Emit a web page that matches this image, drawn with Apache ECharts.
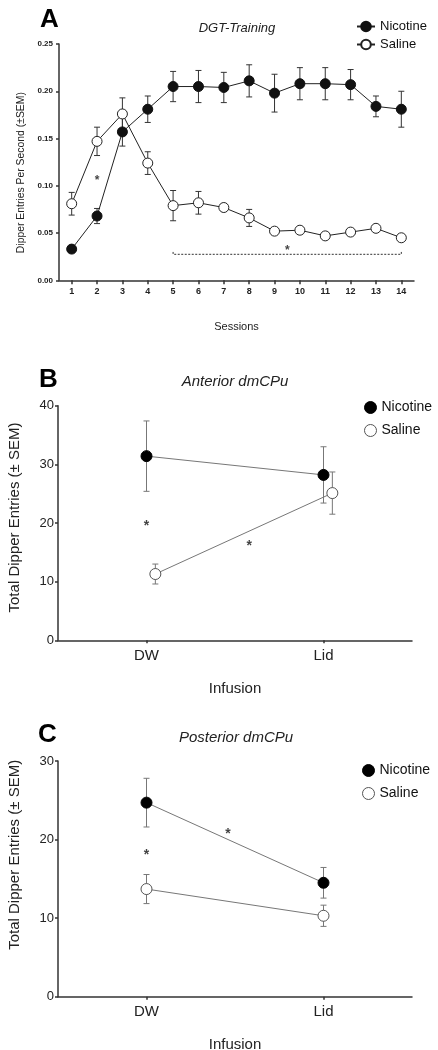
<!DOCTYPE html>
<html>
<head>
<meta charset="utf-8">
<script src="https://cdn.jsdelivr.net/npm/echarts@6/dist/echarts.min.js"></script>
<style>
html,body{margin:0;padding:0;background:#fff;}
#chart{width:438px;height:1050px;}
</style>
</head>
<body>
<div id="chart"></div>
<script>
// ---------- DATA ----------
const sessions = [1, 2, 3, 4, 5, 6, 7, 8, 9, 10, 11, 12, 13, 14];
const nicotineA    = [0.033, 0.068, 0.157, 0.181, 0.205, 0.205, 0.204, 0.211, 0.198, 0.208, 0.208, 0.207, 0.184, 0.181];
const nicotineASem = [0.002, 0.008, 0.015, 0.014, 0.016, 0.017, 0.016, 0.017, 0.020, 0.017, 0.017, 0.016, 0.011, 0.019];
const salineA      = [0.081, 0.147, 0.176, 0.124, 0.079, 0.082, 0.077, 0.066, 0.052, 0.053, 0.047, 0.051, 0.055, 0.045];
const salineASem   = [0.012, 0.015, 0.017, 0.012, 0.016, 0.012, 0.004, 0.009, 0.003, 0.003, 0.003, 0.003, 0.003, 0.003];

const infusion = ['DW', 'Lid'];
const nicotineB    = [31.4, 28.2];
const nicotineBSem = [6.0, 4.8];
const salineB      = [11.3, 25.1];
const salineBSem   = [1.7, 3.6];

const nicotineC    = [24.7, 14.5];
const nicotineCSem = [3.1, 1.95];
const salineC      = [13.7, 10.3];
const salineCSem   = [1.85, 1.35];

// significance annotations (data coordinates)
const starsA = [[2, 0.109], [9.5, 0.034]];
const bracketA = { from: 5, to: 14, y: 0.0275, tip: 0.030 };
const starsB = [[1, 20.0], [1.58, 16.5]];
const starsC = [[1, 18.4], [1.46, 21.1]];

// ---------- HELPERS ----------
const FONT = 'Liberation Sans, Arial, sans-serif';
function pts(xs, ys, dx) { return ys.map((v, i) => [xs[i] + (dx || 0), v]); }
function errs(xs, ys, sem, dx) { return ys.map((v, i) => [xs[i] + (dx || 0), v - sem[i], v + sem[i]]); }
function errRender(capHalf, color) {
  return function (params, api) {
    const x = api.value(0), lo = api.value(1), hi = api.value(2);
    const a = api.coord([x, hi]), b = api.coord([x, lo]);
    const st = { stroke: color, lineWidth: 1 };
    return { type: 'group', children: [
      { type: 'line', shape: { x1: a[0], y1: a[1], x2: b[0], y2: b[1] }, style: st },
      { type: 'line', shape: { x1: a[0] - capHalf, y1: a[1], x2: a[0] + capHalf, y2: a[1] }, style: st },
      { type: 'line', shape: { x1: b[0] - capHalf, y1: b[1], x2: b[0] + capHalf, y2: b[1] }, style: st }
    ]};
  };
}
function starSeries(idx, data, size) {
  return { type: 'scatter', xAxisIndex: idx, yAxisIndex: idx, data: data, symbolSize: 0, z: 5, silent: true,
    label: { show: true, formatter: '*', position: 'inside', color: '#111', fontFamily: FONT,
      fontSize: size, fontWeight: 'bold', offset: [0, Math.round(size * 0.22)] } };
}
const xIdxB = [1, 2];

const chart = echarts.init(document.getElementById('chart'), null, { renderer: 'canvas' });

const axisLineA = { show: true, lineStyle: { color: '#333', width: 1.5 } };
const legendCircles = [
  { name: 'Nicotine', icon: 'circle', itemStyle: { color: '#000', borderColor: '#000', borderWidth: 1 } },
  { name: 'Saline', icon: 'circle', itemStyle: { color: '#fff', borderColor: '#555', borderWidth: 1 } }
];

const option = {
  animation: false,
  backgroundColor: '#fff',
  textStyle: { fontFamily: FONT },
  grid: [
    { left: 59, right: 24, top: 44, height: 236.3, containLabel: false, outerBoundsMode: 'none' },
    { left: 58, right: 26, top: 405.7, height: 234.6, containLabel: false, outerBoundsMode: 'none' },
    { left: 58, right: 26, top: 761, height: 235.7, containLabel: false, outerBoundsMode: 'none' }
  ],
  xAxis: [
    { gridIndex: 0, type: 'value', min: 0.5, max: 14.5, splitLine: { show: false },
      name: 'Sessions', nameLocation: 'middle', nameGap: 41,
      nameTextStyle: { fontSize: 11, color: '#222', fontFamily: FONT },
      axisLine: axisLineA,
      axisTick: { show: true, length: 4, customValues: sessions, lineStyle: { color: '#333', width: 1.5 } },
      axisLabel: { customValues: sessions, margin: 7, fontSize: 9, fontWeight: 'bold', color: '#222', fontFamily: FONT } },
    { gridIndex: 1, type: 'value', min: 0.5, max: 2.5, splitLine: { show: false },
      name: 'Infusion', nameLocation: 'middle', nameGap: 41,
      nameTextStyle: { fontSize: 15, color: '#222', fontFamily: FONT },
      axisLine: axisLineA,
      axisTick: { show: true, length: 3, customValues: xIdxB, lineStyle: { color: '#333', width: 1.5 } },
      axisLabel: { customValues: xIdxB, margin: 8, fontSize: 15, color: '#222', fontFamily: FONT,
        formatter: v => infusion[Math.round(v) - 1] } },
    { gridIndex: 2, type: 'value', min: 0.5, max: 2.5, splitLine: { show: false },
      name: 'Infusion', nameLocation: 'middle', nameGap: 41,
      nameTextStyle: { fontSize: 15, color: '#222', fontFamily: FONT },
      axisLine: axisLineA,
      axisTick: { show: true, length: 3, customValues: xIdxB, lineStyle: { color: '#333', width: 1.5 } },
      axisLabel: { customValues: xIdxB, margin: 8, fontSize: 15, color: '#222', fontFamily: FONT,
        formatter: v => infusion[Math.round(v) - 1] } }
  ],
  yAxis: [
    { gridIndex: 0, type: 'value', min: 0, max: 0.25, interval: 0.05, splitLine: { show: false },
      name: 'Dipper Entries Per Second (\u00b1SEM)', nameLocation: 'middle', nameGap: 25,
      nameTextStyle: { fontSize: 10.4, color: '#222', fontFamily: FONT, padding: [0, 21, 0, 0] },
      axisLine: axisLineA,
      axisTick: { show: true, length: 3, lineStyle: { color: '#333', width: 1.5 } },
      axisLabel: { margin: 6, fontSize: 8, fontWeight: 'bold', color: '#222', fontFamily: FONT,
        formatter: v => v.toFixed(2) } },
    { gridIndex: 1, type: 'value', min: 0, max: 40, interval: 10, splitLine: { show: false },
      name: 'Total Dipper Entries (\u00b1 SEM)', nameLocation: 'middle', nameGap: 35.5,
      nameTextStyle: { fontSize: 15, color: '#222', fontFamily: FONT, padding: [0, 0, 0, 11] },
      axisLine: axisLineA,
      axisTick: { show: true, length: 3, lineStyle: { color: '#333', width: 1.5 } },
      axisLabel: { margin: 4, fontSize: 13, color: '#222', fontFamily: FONT } },
    { gridIndex: 2, type: 'value', min: 0, max: 30, interval: 10, splitLine: { show: false },
      name: 'Total Dipper Entries (\u00b1 SEM)', nameLocation: 'middle', nameGap: 35.5,
      nameTextStyle: { fontSize: 15, color: '#222', fontFamily: FONT, padding: [0, 0, 0, 48] },
      axisLine: axisLineA,
      axisTick: { show: true, length: 3, lineStyle: { color: '#333', width: 1.5 } },
      axisLabel: { margin: 4, fontSize: 13, color: '#222', fontFamily: FONT } }
  ],
  legend: [
    { orient: 'vertical', left: 356, top: 20, padding: 0, itemWidth: 18, itemHeight: 12, itemGap: 5,
      textStyle: { fontSize: 13, lineHeight: 13, color: '#111', fontFamily: FONT },
      data: ['Nicotine', 'Saline'] },
    { orient: 'vertical', left: 364, top: 400.5, padding: 0, itemWidth: 12, itemHeight: 12, itemGap: 9,
      textStyle: { fontSize: 14, lineHeight: 14, color: '#111', fontFamily: FONT },
      data: legendCircles },
    { orient: 'vertical', left: 362, top: 763.5, padding: 0, itemWidth: 12, itemHeight: 12, itemGap: 9,
      textStyle: { fontSize: 14, lineHeight: 14, color: '#111', fontFamily: FONT },
      data: legendCircles }
  ],
  graphic: [
    { type: 'text', left: 40, top: 7, style: { text: 'A', font: 'bold 26px ' + FONT, fill: '#000' } },
    { type: 'text', x: 237, y: 28, style: { text: 'DGT-Training', font: 'italic 13px ' + FONT, fill: '#222', textAlign: 'center', textVerticalAlign: 'middle' } },
    { type: 'text', left: 39, top: 367, style: { text: 'B', font: 'bold 26px ' + FONT, fill: '#000' } },
    { type: 'text', x: 235, y: 382, style: { text: 'Anterior dmCPu', font: 'italic 15px ' + FONT, fill: '#222', textAlign: 'center', textVerticalAlign: 'middle' } },
    { type: 'text', left: 38, top: 722, style: { text: 'C', font: 'bold 26px ' + FONT, fill: '#000' } },
    { type: 'text', x: 236, y: 738, style: { text: 'Posterior dmCPu', font: 'italic 15px ' + FONT, fill: '#222', textAlign: 'center', textVerticalAlign: 'middle' } }
  ],
  series: [
    // ----- Panel A -----
    { type: 'custom', name: 'errNicA', xAxisIndex: 0, yAxisIndex: 0, z: 1, silent: true,
      renderItem: errRender(3, '#333'), encode: { x: 0, y: [1, 2] }, data: errs(sessions, nicotineA, nicotineASem) },
    { type: 'custom', name: 'errSalA', xAxisIndex: 0, yAxisIndex: 0, z: 1, silent: true,
      renderItem: errRender(3, '#333'), encode: { x: 0, y: [1, 2] }, data: errs(sessions, salineA, salineASem) },
    { type: 'line', name: 'Saline', xAxisIndex: 0, yAxisIndex: 0, z: 3, data: pts(sessions, salineA),
      symbol: 'circle', symbolSize: 10, showAllSymbol: true,
      lineStyle: { color: '#222', width: 1 }, itemStyle: { color: '#fff', borderColor: '#222', borderWidth: 1 } },
    { type: 'line', name: 'Nicotine', xAxisIndex: 0, yAxisIndex: 0, z: 4, data: pts(sessions, nicotineA),
      symbol: 'circle', symbolSize: 10, showAllSymbol: true,
      lineStyle: { color: '#222', width: 1 }, itemStyle: { color: '#111', borderColor: '#111', borderWidth: 1 } },
    { type: 'line', name: 'bracketA', xAxisIndex: 0, yAxisIndex: 0, z: 2, symbol: 'none', silent: true,
      data: [[bracketA.from, bracketA.tip], [bracketA.from, bracketA.y], [bracketA.to, bracketA.y], [bracketA.to, bracketA.tip]],
      lineStyle: { color: '#333', width: 1, type: [2, 1.5] } },
    starSeries(0, starsA, 12),
    // ----- Panel B -----
    { type: 'custom', name: 'errNicB', xAxisIndex: 1, yAxisIndex: 1, z: 1, silent: true,
      renderItem: errRender(3, '#777'), encode: { x: 0, y: [1, 2] }, data: errs(xIdxB, nicotineB, nicotineBSem) },
    { type: 'custom', name: 'errSalB', xAxisIndex: 1, yAxisIndex: 1, z: 1, silent: true,
      renderItem: errRender(3, '#777'), encode: { x: 0, y: [1, 2] }, data: errs(xIdxB, salineB, salineBSem, 0.05) },
    { type: 'line', name: 'Nicotine', xAxisIndex: 1, yAxisIndex: 1, z: 4, data: pts(xIdxB, nicotineB),
      symbol: 'circle', symbolSize: 11,
      lineStyle: { color: '#777', width: 1 }, itemStyle: { color: '#000', borderColor: '#000', borderWidth: 1 } },
    { type: 'line', name: 'Saline', xAxisIndex: 1, yAxisIndex: 1, z: 3, data: pts(xIdxB, salineB, 0.05),
      symbol: 'circle', symbolSize: 11,
      lineStyle: { color: '#777', width: 1 }, itemStyle: { color: '#fff', borderColor: '#555', borderWidth: 1 } },
    starSeries(1, starsB, 14),
    // ----- Panel C -----
    { type: 'custom', name: 'errNicC', xAxisIndex: 2, yAxisIndex: 2, z: 1, silent: true,
      renderItem: errRender(3, '#777'), encode: { x: 0, y: [1, 2] }, data: errs(xIdxB, nicotineC, nicotineCSem) },
    { type: 'custom', name: 'errSalC', xAxisIndex: 2, yAxisIndex: 2, z: 1, silent: true,
      renderItem: errRender(3, '#777'), encode: { x: 0, y: [1, 2] }, data: errs(xIdxB, salineC, salineCSem) },
    { type: 'line', name: 'Nicotine', xAxisIndex: 2, yAxisIndex: 2, z: 4, data: pts(xIdxB, nicotineC),
      symbol: 'circle', symbolSize: 11,
      lineStyle: { color: '#777', width: 1 }, itemStyle: { color: '#000', borderColor: '#000', borderWidth: 1 } },
    { type: 'line', name: 'Saline', xAxisIndex: 2, yAxisIndex: 2, z: 3, data: pts(xIdxB, salineC),
      symbol: 'circle', symbolSize: 11,
      lineStyle: { color: '#777', width: 1 }, itemStyle: { color: '#fff', borderColor: '#555', borderWidth: 1 } },
    starSeries(2, starsC, 14)
  ]
};
chart.setOption(option);
</script>
</body>
</html>
